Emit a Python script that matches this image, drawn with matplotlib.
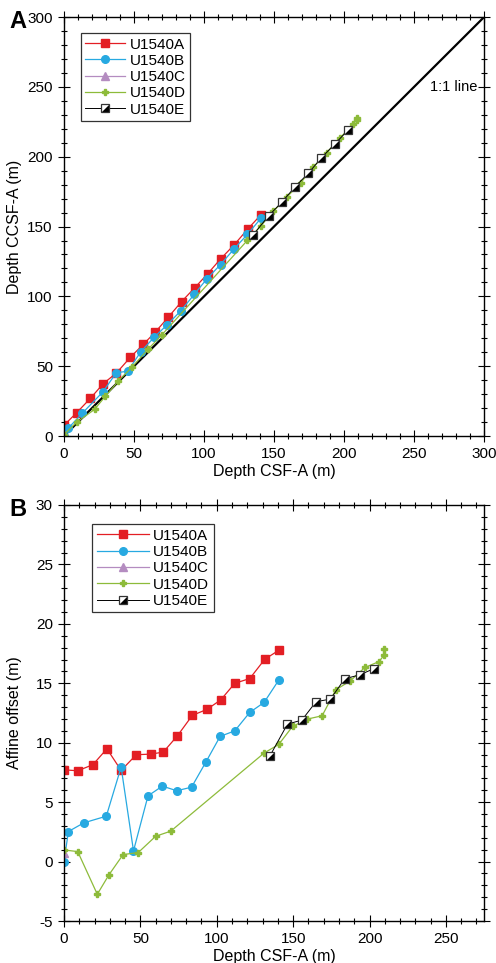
import numpy as np
import matplotlib
matplotlib.use("Agg")
import matplotlib.pyplot as plt
from matplotlib.ticker import MultipleLocator
from matplotlib.legend_handler import HandlerTuple

plt.rcParams["font.family"] = ["Liberation Sans", "DejaVu Sans"]
plt.rcParams["axes.unicode_minus"] = False

# CSF-A depth (m) and affine offset (m) for each hole
a_csf = [0, 9, 18.9, 28.1, 37.4, 47.3, 56.7, 65, 74.3, 84, 93.5, 102.6, 111.8, 121.6, 131.5, 140.8]
a_off = [7.72, 7.64, 8.15, 9.49, 7.67, 8.99, 9.04, 9.21, 10.59, 12.3, 12.8, 13.6, 15.0, 15.4, 17.03, 17.79]

b_csf = [0, 2.9, 13, 27.7, 37.4, 45.5, 55, 64.4, 73.8, 83.5, 93, 102.2, 111.8, 121.6, 131, 140.6]
b_off = [0, 2.53, 3.26, 3.82, 7.95, 0.9, 5.53, 6.35, 5.96, 6.26, 8.4, 10.53, 11.0, 12.55, 13.39, 15.27]

c_csf = [0]
c_off = [0.7]

d_csf = [0, 9, 21.8, 29.5, 38.7, 48.6, 60, 69.9, 131, 140.6, 149.6, 159.4, 169, 177.9,
         187.5, 196.9, 206.3, 209.3, 209.5]
d_off = [0.98, 0.84, -2.75, -1.1, 0.59, 0.76, 2.13, 2.56, 9.13, 9.86, 11.37, 11.99, 12.27, 14.45,
         15.21, 16.33, 16.83, 17.34, 17.87]

e_csf = [134.9, 146.3, 155.7, 165, 174.4, 183.8, 193.6, 202.7]
e_off = [8.91, 11.57, 11.9, 13.45, 13.67, 15.38, 15.71, 16.22]

holes = ["U1540A", "U1540B", "U1540C", "U1540D", "U1540E"]
colors = ["#e31e24", "#27a9e1", "#b48cc0", "#8dbb3a", "#000000"]

half_tri = [(1, -1), (1, 1), (-1, -1), (1, -1)]


def style_axes(ax, major, minor):
    ax.xaxis.set_major_locator(MultipleLocator(major[0]))
    ax.xaxis.set_minor_locator(MultipleLocator(minor[0]))
    ax.yaxis.set_major_locator(MultipleLocator(major[1]))
    ax.yaxis.set_minor_locator(MultipleLocator(minor[1]))
    ax.tick_params(which="both", direction="inout", top=True, right=True,
                   labelsize=11, width=0.8, color="black")
    ax.tick_params(which="major", length=9)
    ax.tick_params(which="minor", length=5)
    for s in ax.spines.values():
        s.set_linewidth(1.0)


def draw_holes(ax, ys):
    data = [(a_csf, ys[0]), (b_csf, ys[1]), (c_csf, ys[2]), (d_csf, ys[3]), (e_csf, ys[4])]
    handles = []
    for i, (x, y) in enumerate(data):
        if i == 0:
            h, = ax.plot(x, y, color=colors[i], lw=0.9, marker="s", ms=6, mec=colors[i])
        elif i == 1:
            h, = ax.plot(x, y, color=colors[i], lw=0.9, marker="o", ms=5.5, mec=colors[i])
        elif i == 2:
            h, = ax.plot(x, y, color=colors[i], lw=0.9, marker="^", ms=5.5, mec=colors[i])
        elif i == 3:
            h, = ax.plot(x, y, color=colors[i], lw=0.9, marker="P", ms=4.5, mec=colors[i])
        else:
            sq, = ax.plot(x, y, color="black", lw=0.7, marker="s", ms=6, mfc="white", mec="#333333", mew=0.9)
            tri, = ax.plot(x, y, ls="none", marker=half_tri, ms=5, mfc="black", mec="black", mew=0)
            h = (sq, tri)
        handles.append(h)
    return handles


fig = plt.figure(figsize=(4.96, 9.63), dpi=100)

# Panel A: CCSF-A vs CSF-A
ax1 = fig.add_axes([0.129, 0.5472, 0.847, 0.4351])
ys_a = [np.array(a_csf) + np.array(a_off), np.array(b_csf) + np.array(b_off),
        np.array(c_csf) + np.array(c_off), np.array(d_csf) + np.array(d_off),
        np.array(e_csf) + np.array(e_off)]
ax1.plot([0, 300], [0, 300], color="black", lw=1.6, zorder=1)
h1 = draw_holes(ax1, ys_a)
ax1.set_xlim(0, 300)
ax1.set_ylim(0, 300)
style_axes(ax1, (50, 50), (10, 10))
ax1.set_xlabel("Depth CSF-A (m)", fontsize=11.5, labelpad=2)
ax1.set_ylabel("Depth CCSF-A (m)", fontsize=11.5, labelpad=4)
ax1.text(278, 250, "1:1 line", fontsize=10.5, ha="center", va="center")
leg1 = ax1.legend(h1, holes, loc="upper left", bbox_to_anchor=(0.04, 0.962), fontsize=11,
                  frameon=True, fancybox=False, edgecolor="black", handlelength=2.6,
                  handletextpad=0.3, labelspacing=0.15, borderpad=0.3, borderaxespad=0,
                  handler_map={tuple: HandlerTuple(ndivide=1)})
leg1.get_frame().set_linewidth(0.9)
fig.text(0.018, 0.978, "A", fontsize=17, fontweight="bold", va="center")

# Panel B: affine offset vs CSF-A
ax2 = fig.add_axes([0.129, 0.0436, 0.847, 0.432])
h2 = draw_holes(ax2, [a_off, b_off, c_off, d_off, e_off])
ax2.set_xlim(0, 275)
ax2.set_ylim(-5, 30)
style_axes(ax2, (50, 5), (10, 1))
ax2.set_xlabel("Depth CSF-A (m)", fontsize=11.5, labelpad=2)
ax2.set_ylabel("Affine offset (m)", fontsize=11.5, labelpad=10)
leg2 = ax2.legend(h2, holes, loc="upper left", bbox_to_anchor=(0.067, 0.954), fontsize=11,
                  frameon=True, fancybox=False, edgecolor="black", handlelength=3.4,
                  handletextpad=0.3, labelspacing=0.15, borderpad=0.3, borderaxespad=0,
                  handler_map={tuple: HandlerTuple(ndivide=1)})
leg2.get_frame().set_linewidth(0.9)
fig.text(0.018, 0.471, "B", fontsize=17, fontweight="bold", va="center")

fig.savefig("out.png", dpi=100)
